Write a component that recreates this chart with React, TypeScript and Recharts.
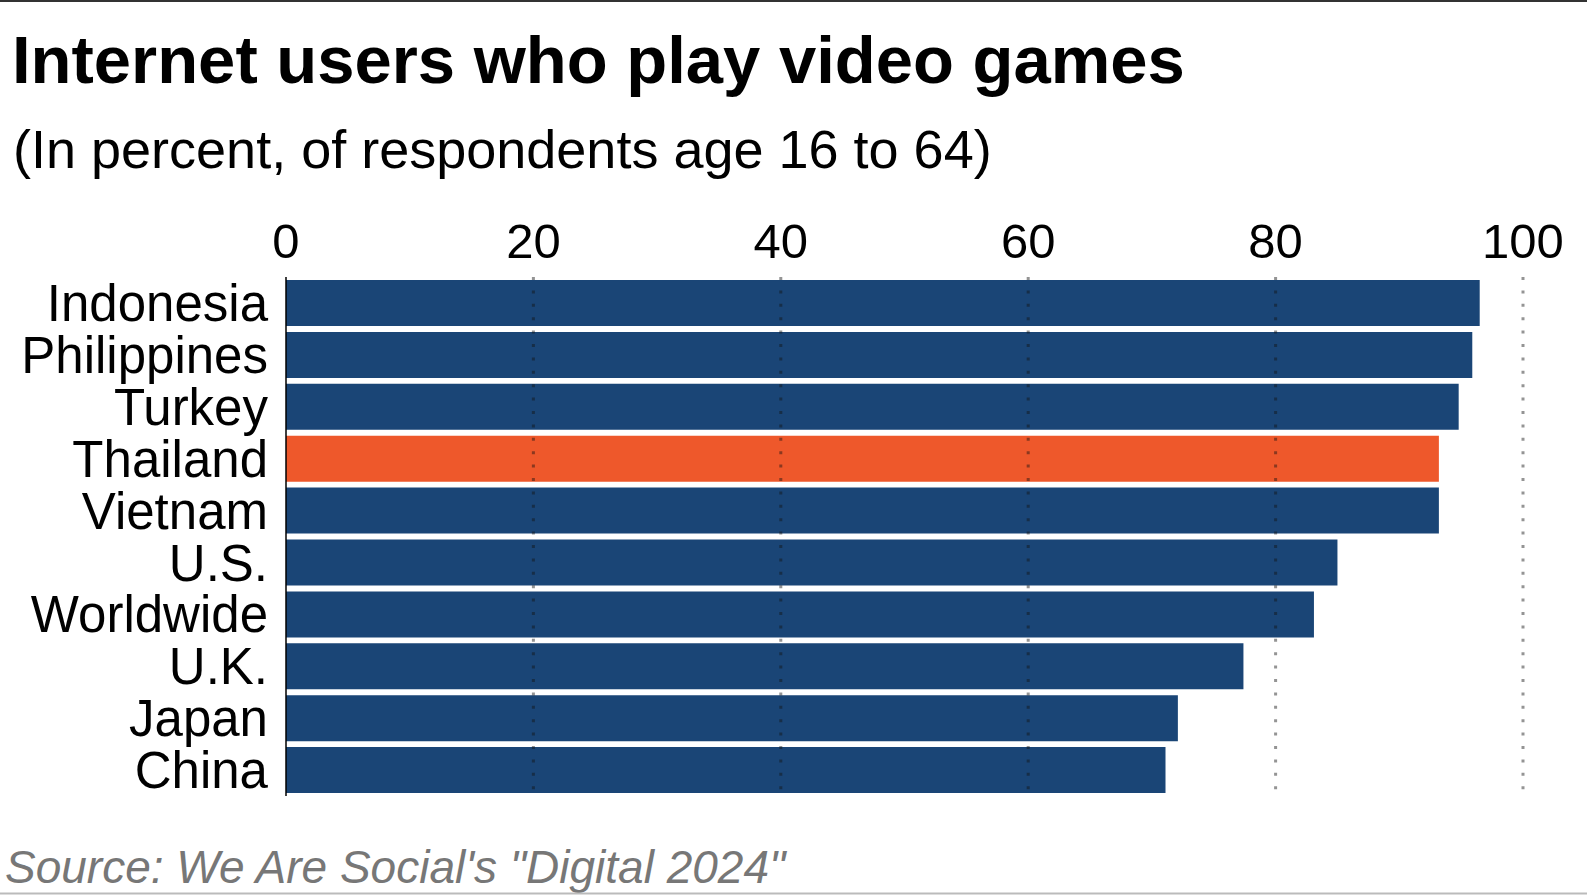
import React from 'react';
import { BarChart, Bar, XAxis, YAxis, Cell, ReferenceLine } from 'recharts';

const countries = ['Indonesia', 'Philippines', 'Turkey', 'Thailand', 'Vietnam', 'U.S.', 'Worldwide', 'U.K.', 'Japan', 'China'];
const shares = [96.5, 95.9, 94.8, 93.2, 93.2, 85.0, 83.1, 77.4, 72.1, 71.1];
const xTicks = [0, 20, 40, 60, 80, 100];
const gridLines = [20, 40, 60, 80, 100];
const highlight = 'Thailand';

const FONT = '"Liberation Sans", Arial, Helvetica, sans-serif';
const BLUE = '#1a4576';
const ORANGE = '#ee582b';

const data = countries.map((name, i) => ({ name, value: shares[i] }));

const App: React.FC = () => {
  return (
    <div style={{ position: 'absolute', left: 0, top: 0, width: 1587, height: 895, background: '#fff', fontFamily: FONT }}>
      <BarChart
        width={1587}
        height={895}
        data={data}
        layout="vertical"
        margin={{ top: 220, right: 64, bottom: 99, left: 0 }}
        barSize={46}
      >
        <XAxis
          type="number"
          orientation="top"
          domain={[0, 100]}
          ticks={xTicks}
          height={57}
          axisLine={false}
          tickLine={false}
          tickSize={0}
          tickMargin={19}
          tick={{ fill: '#000', fontSize: 49, fontFamily: FONT }}
        />
        <YAxis
          type="category"
          dataKey="name"
          width={286}
          axisLine={{ stroke: '#000', strokeWidth: 1.5 }}
          tickLine={false}
          tickSize={0}
          tickMargin={18}
          interval={0}
          tick={{ fill: '#000', fontSize: 51, fontFamily: FONT }}
        />
        <Bar dataKey="value" isAnimationActive={false}>
          {data.map((d) => (
            <Cell key={d.name} fill={d.name === highlight ? ORANGE : BLUE} />
          ))}
        </Bar>
        {gridLines.map((v) => (
          <ReferenceLine
            key={v}
            x={v}
            stroke="#111"
            strokeOpacity={0.45}
            strokeWidth={3}
            strokeDasharray="3 10.4"
          />
        ))}
      </BarChart>
      <svg width={1587} height={895} style={{ position: 'absolute', left: 0, top: 0, pointerEvents: 'none' }}>
        <line x1={0} x2={1587} y1={1} y2={1} stroke="#333" strokeWidth={2} />
        <text x={12} y={83} fontSize={67} fontWeight="bold" fill="#000" fontFamily={FONT}>
          Internet users who play video games
        </text>
        <text x={13} y={168} fontSize={54} fill="#000" fontFamily={FONT}>
          (In percent, of respondents age 16 to 64)
        </text>
        <text x={5} y={883} fontSize={46} fontStyle="italic" fill="#777" fontFamily={FONT}>
          Source: We Are Social's "Digital 2024"
        </text>
        <line x1={0} x2={1587} y1={893.5} y2={893.5} stroke="#bbb" strokeWidth={2} />
      </svg>
    </div>
  );
};

export default App;
